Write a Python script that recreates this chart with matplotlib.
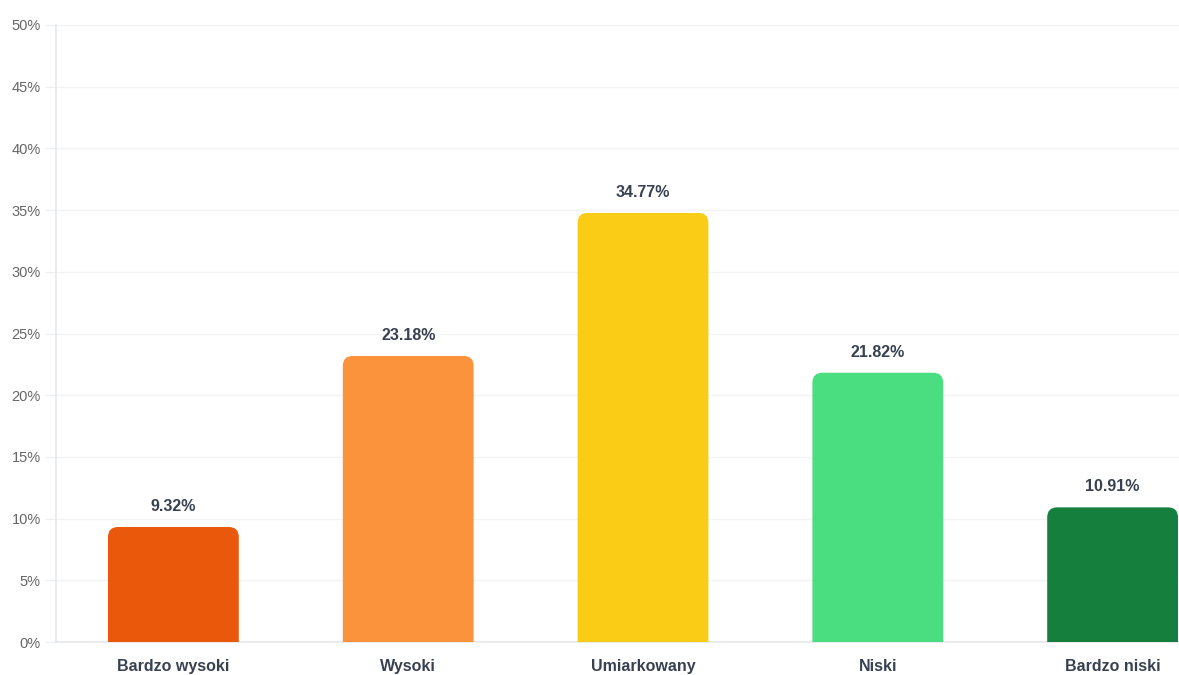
import matplotlib
matplotlib.use("Agg")
import matplotlib.pyplot as plt
from matplotlib.patches import FancyBboxPatch

categories = ["Bardzo wysoki", "Wysoki", "Umiarkowany", "Niski", "Bardzo niski"]
values = [9.32, 23.18, 34.77, 21.82, 10.91]
colors = ["#EA580C", "#FB923C", "#FACC15", "#4ADE80", "#15803D"]
yticks = [0, 5, 10, 15, 20, 25, 30, 35, 40, 45, 50]

plt.rcParams['font.family'] = ['Liberation Sans', 'DejaVu Sans']

W, H = 1179, 675
fig = plt.figure(figsize=(W / 100, H / 100), dpi=100)
# plot area runs past the right edge of the image, as in the reference
ax = fig.add_axes([56 / W, 33 / H, 1174 / W, 617 / H])

x = list(range(len(categories)))
bars = ax.bar(x, values, width=0.557, color=colors, zorder=3)

ax.set_xlim(-0.5, len(categories) - 0.5)
ax.set_ylim(0, 50)

# swap plain bars for rounded-top ones
x_per_px = 5 / 1174
y_per_px = 50 / 617
r = 10 * x_per_px
aspect = y_per_px / x_per_px
for b, c in zip(bars, colors):
    bx, bw, bh = b.get_x(), b.get_width(), b.get_height()
    b.set_visible(False)
    p = FancyBboxPatch((bx + r, -5), bw - 2 * r, bh + 5 - r * aspect,
                       boxstyle=f"round,pad={r},rounding_size={r}",
                       mutation_aspect=aspect,
                       facecolor=c, edgecolor="none", zorder=3)
    ax.add_patch(p)

for xi, v in zip(x, values):
    ax.annotate(f"{v:.2f}%", (xi, v), xytext=(0, 13), textcoords="offset pixels",
                ha="center", va="bottom", fontsize=11.5, fontweight="bold",
                color="#374151")

ax.set_xticks(x)
ax.set_xticklabels(categories, fontsize=11.5, fontweight="bold", color="#374151")
ax.set_yticks(yticks)
ax.set_yticklabels([f"{t}%" for t in yticks], fontsize=10.5, color="#666666")

ax.tick_params(axis="x", length=0, pad=12)
ax.tick_params(axis="y", length=8, width=1, color="#eef0f3", pad=3)

ax.grid(axis="y", color="#f1f3f5", linewidth=1, zorder=0)
for s in ["top", "right"]:
    ax.spines[s].set_visible(False)
ax.spines["left"].set_color("#e5e7eb")
ax.spines["bottom"].set_color("#e5e7eb")
ax.spines["left"].set_linewidth(1.2)
ax.spines["bottom"].set_linewidth(1.2)

fig.savefig("out.png", dpi=100)
